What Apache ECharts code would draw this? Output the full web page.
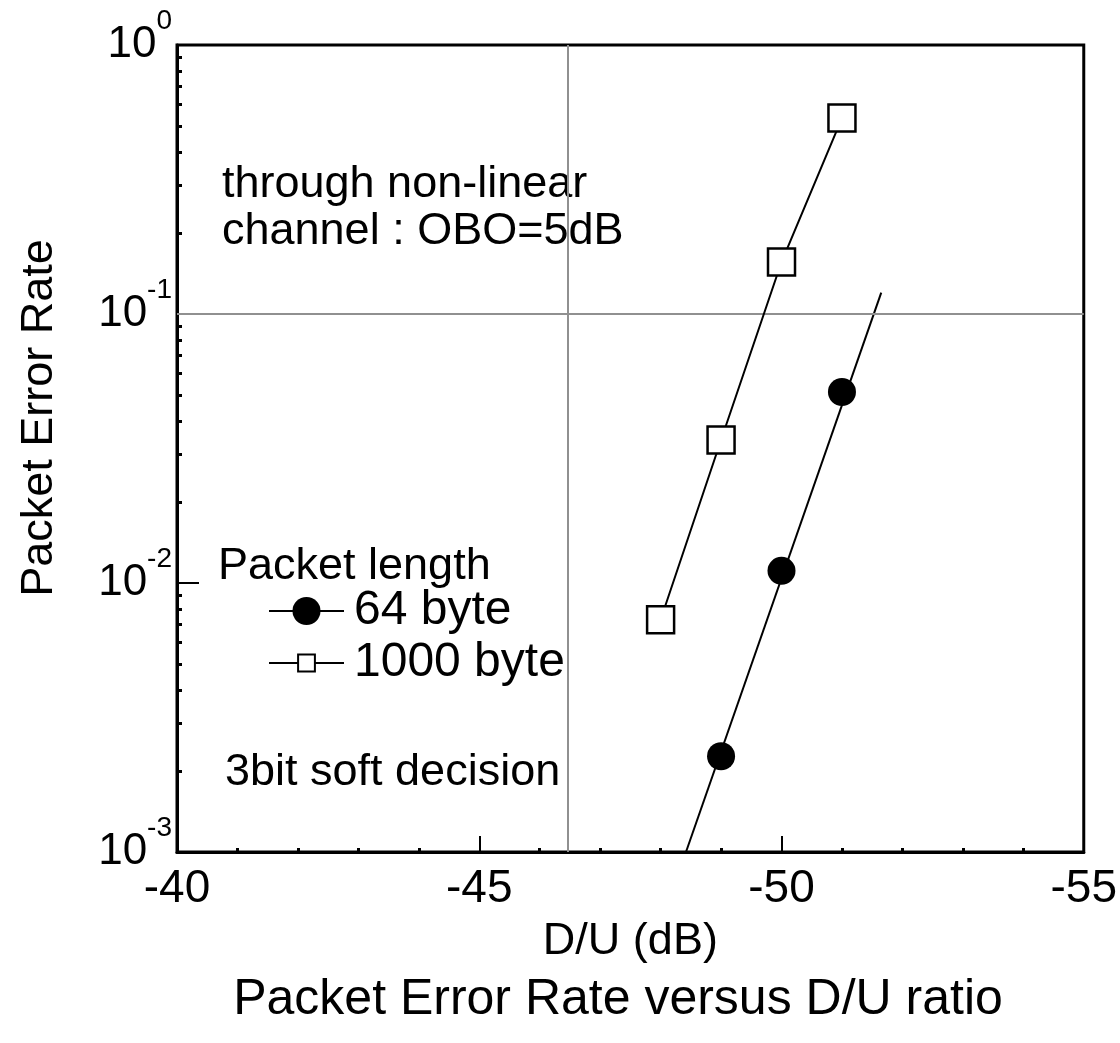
<!DOCTYPE html>
<html><head><meta charset="utf-8">
<script src="https://cdn.jsdelivr.net/npm/echarts/dist/echarts.min.js"></script>
<style>html,body{margin:0;padding:0;background:#fff}#c{width:1120px;height:1043px}</style>
</head><body><div id="c"></div>
<script>
// ---- data ----
const du1000 = [-48, -49, -50, -51];
const per1000 = [0.0073, 0.034, 0.156, 0.535];
const du64 = [-49, -50, -51];
const per64 = [0.00227, 0.0111, 0.0513];
const fitDu64 = [-48.42, -51.65];
const fitPer64 = [0.001, 0.12];
const refLineDu = -46.46;
const refLinePer = 0.096;
const xMin = -55, xMax = -40, xStep = 5;
const yMin = 0.001, yMax = 1;
const seriesNames = ['64 byte', '1000 byte'];
const annotations = ['through non-linear', 'channel : OBO=5dB', 'Packet length', '3bit soft decision'];
const xAxisName = 'D/U (dB)';
const yAxisName = 'Packet Error Rate';
const caption = 'Packet Error Rate versus D/U ratio';

const FONT = '"Liberation Sans", Arial, sans-serif';
const chart = echarts.init(document.getElementById('c'), null, {renderer: 'canvas'});

function txt(text, x, y, size, align, rot) {
  return {type: 'text', x: x, y: y, rotation: rot || 0, silent: true,
    style: {text: text, fill: '#000', font: size + 'px ' + FONT, align: align || 'left', verticalAlign: 'middle'}};
}

const option = {
  animation: false,
  backgroundColor: '#fff',
  grid: {left: 177, right: 32, top: 45, bottom: 191, show: true, borderColor: '#000', borderWidth: 3, backgroundColor: 'transparent'},
  xAxis: {
    type: 'value', inverse: true, min: xMin, max: xMax, interval: xStep,
    name: xAxisName, nameLocation: 'middle', nameGap: 67,
    nameTextStyle: {fontFamily: FONT, fontSize: 45, color: '#000'},
    axisLine: {show: true, onZero: false, lineStyle: {color: '#000', width: 3}},
    axisTick: {show: true, inside: true, length: 16, lineStyle: {color: '#000', width: 2}},
    minorTick: {show: true, splitNumber: 5, length: 4, lineStyle: {color: '#000', width: 3}},
    splitLine: {show: false}, minorSplitLine: {show: false},
    axisLabel: {fontFamily: FONT, fontSize: 46, color: '#000', margin: 14, formatter: v => String(v)}
  },
  yAxis: {
    type: 'log', logBase: 10, min: yMin, max: yMax,
    axisLine: {show: true, onZero: false, lineStyle: {color: '#000', width: 3}},
    axisTick: {show: true, inside: true, length: 22, lineStyle: {color: '#000', width: 2}},
    minorTick: {show: true, splitNumber: 9, length: 5, lineStyle: {color: '#000', width: 3}},
    splitLine: {show: false}, minorSplitLine: {show: false},
    axisLabel: {
      margin: 5, color: '#000',
      formatter: v => '{b|10}{s|' + Math.round(Math.log10(v)) + '}',
      rich: {
        b: {fontFamily: FONT, fontSize: 44, lineHeight: 44, color: '#000', verticalAlign: 'bottom'},
        s: {fontFamily: FONT, fontSize: 28, lineHeight: 28, color: '#000', verticalAlign: 'bottom', padding: [0, 0, 32, 0]}
      }
    }
  },
  legend: [
    {data: [seriesNames[0]], left: 268, top: 587, padding: 0, itemWidth: 75, itemHeight: 35, selectedMode: false,
     textStyle: {fontFamily: FONT, fontSize: 48, color: '#000', padding: [0, 0, 0, 5]},
     lineStyle: {color: '#000', width: 2, opacity: 1}},
    {data: [seriesNames[1]], left: 268, top: 639, padding: 0, itemWidth: 75, itemHeight: 21, selectedMode: false,
     textStyle: {fontFamily: FONT, fontSize: 48, color: '#000', padding: [0, 0, 0, 5]},
     lineStyle: {color: '#000', width: 2, opacity: 1}}
  ],
  graphic: [
    txt(annotations[0], 222, 185, 45),
    txt(annotations[1], 222, 232, 45),
    txt(annotations[2], 218, 567, 45),
    txt(annotations[3], 225, 773, 45),
    txt(yAxisName, 40, 418, 45, 'center', Math.PI / 2),
    txt(caption, 618, 1000, 50, 'center')
  ],
  series: [
    {
      name: 'ref', type: 'line', data: [], silent: true,
      markLine: {silent: true, symbol: ['none', 'none'], label: {show: false},
        lineStyle: {color: '#909090', width: 2, type: 'solid'},
        data: [{xAxis: refLineDu}, {yAxis: refLinePer}]}
    },
    {
      name: 'fit64', type: 'line', data: fitDu64.map((x, i) => [x, fitPer64[i]]),
      symbol: 'none', lineStyle: {color: '#000', width: 2}, silent: true
    },
    {
      name: seriesNames[0], type: 'line', data: du64.map((x, i) => [x, per64[i]]),
      symbol: 'circle', symbolSize: 28, lineStyle: {color: '#000', width: 2, opacity: 0},
      itemStyle: {color: '#000', borderColor: '#000', borderWidth: 0}, z: 5
    },
    {
      name: seriesNames[1], type: 'line', data: du1000.map((x, i) => [x, per1000[i]]),
      symbol: 'rect', symbolSize: 27, lineStyle: {color: '#000', width: 2},
      itemStyle: {color: '#fff', borderColor: '#000', borderWidth: 2.5}, z: 5
    }
  ]
};
chart.setOption(option);
</script></body></html>
